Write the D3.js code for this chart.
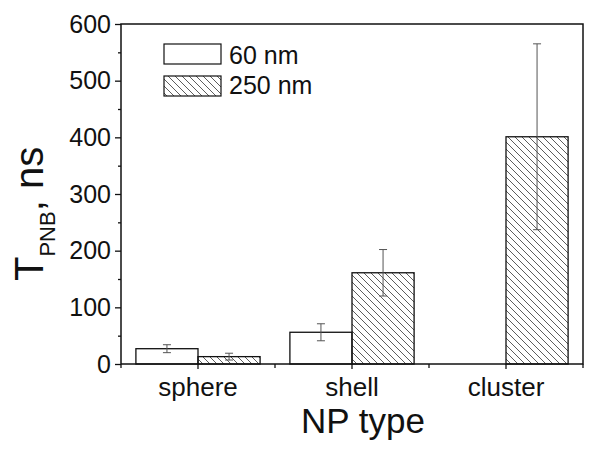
<!DOCTYPE html>
<html>
<head>
<meta charset="utf-8">
<script src="https://cdn.jsdelivr.net/npm/d3@7"></script>
<style>
  body { margin: 0; background: #fff; }
  svg { font-family: "Liberation Sans", Arial, sans-serif; }
</style>
</head>
<body>
<svg id="chart" width="601" height="449"></svg>
<script>
// data
let types = ["sphere", "shell", "cluster"];
let sizes = ["60 nm", "250 nm"];
let means60 = [27, 56, null];
let errs60 = [7, 15, null];
let means250 = [13, 161, 401];
let errs250 = [6, 41, 164];
let yTicks = [0, 100, 200, 300, 400, 500, 600];

let svg = d3.select("#chart");
let pLeft = 121, pRight = 583, pTop = 24, pBottom = 364;

let x = d3.scaleBand().domain(types).range([pLeft, pRight]).paddingInner(0).paddingOuter(0);
let inner = d3.scaleBand().domain(sizes).range([0, x.bandwidth()]).paddingInner(0).paddingOuter(0.24);
let y = d3.scaleLinear().domain([0, 600]).range([pBottom, pTop]);

// hatch pattern
let defs = svg.append("defs");
defs.append("pattern")
  .attr("id", "hatch")
  .attr("patternUnits", "userSpaceOnUse")
  .attr("width", 7).attr("height", 7)
  .append("path")
  .attr("d", "M-1,-1 L8,8 M-8,-1 L1,8 M6,-1 L15,8")
  .attr("stroke", "#333").attr("stroke-width", 0.8);

let rows = [];
types.forEach(function (t, i) {
  rows.push({ type: t, size: sizes[0], v: means60[i], e: errs60[i] });
  rows.push({ type: t, size: sizes[1], v: means250[i], e: errs250[i] });
});
rows = rows.filter(d => d.v != null);

// bars
svg.append("g").selectAll("rect").data(rows).join("rect")
  .attr("x", d => x(d.type) + inner(d.size))
  .attr("y", d => y(d.v))
  .attr("width", inner.bandwidth())
  .attr("height", d => y(0) - y(d.v))
  .attr("fill", d => d.size == sizes[0] ? "#fff" : "url(#hatch)")
  .attr("stroke", "#111").attr("stroke-width", 1.3);

// error bars
let eb = svg.append("g").attr("stroke", "#555").attr("stroke-width", 1);
rows.forEach(function (d) {
  let cx = x(d.type) + inner(d.size) + inner.bandwidth() / 2;
  eb.append("line").attr("x1", cx).attr("x2", cx).attr("y1", y(d.v + d.e)).attr("y2", y(d.v - d.e));
  eb.append("line").attr("x1", cx - 4).attr("x2", cx + 4).attr("y1", y(d.v + d.e)).attr("y2", y(d.v + d.e));
  eb.append("line").attr("x1", cx - 4).attr("x2", cx + 4).attr("y1", y(d.v - d.e)).attr("y2", y(d.v - d.e));
});

// frame
svg.append("rect")
  .attr("x", pLeft).attr("y", pTop).attr("width", pRight - pLeft).attr("height", pBottom - pTop)
  .attr("fill", "none").attr("stroke", "#111").attr("stroke-width", 1.5);

// y axis
let yAxis = svg.append("g").attr("transform", "translate(" + pLeft + ",0)")
  .call(d3.axisLeft(y).tickValues(yTicks).tickSize(6).tickPadding(4));
svg.append("g").attr("transform", "translate(" + pLeft + ",0)")
  .call(d3.axisLeft(y).tickValues(d3.range(50, 600, 100)).tickSize(3).tickFormat(""))
  .select(".domain").remove();
yAxis.select(".domain").remove();
svg.selectAll("g.tick line").attr("stroke", "#111").attr("stroke-width", 1.3);
yAxis.selectAll("text").attr("font-size", 25).attr("font-family", "Liberation Sans, Arial").attr("fill", "#111");

// x axis
let xAxis = svg.append("g").attr("transform", "translate(0," + pBottom + ")")
  .call(d3.axisBottom(x).tickSize(5).tickPadding(9));
xAxis.select(".domain").remove();
xAxis.selectAll("line").attr("stroke", "#111").attr("stroke-width", 1.3);
xAxis.selectAll("text").attr("font-size", 26).attr("font-family", "Liberation Sans, Arial").attr("fill", "#111");
let minorX = [pLeft].concat(types.map(t => x(t) + x.bandwidth()));
svg.append("g").selectAll("line").data(minorX).join("line")
  .attr("x1", d => d).attr("x2", d => d).attr("y1", pBottom).attr("y2", pBottom + 4)
  .attr("stroke", "#111").attr("stroke-width", 1.3);

// axis titles
svg.append("text").attr("x", 363).attr("y", 433).attr("text-anchor", "middle")
  .attr("font-size", 35).attr("fill", "#111").text("NP type");
let yt = svg.append("text").attr("transform", "translate(43,281) rotate(-90)")
  .attr("text-anchor", "start").attr("font-size", 40).attr("fill", "#111");
yt.append("tspan").text("T");
yt.append("tspan").attr("font-size", 22).attr("dy", 12).text("PNB");
yt.append("tspan").attr("dy", -12).text(", ns");

// legend
let lg = svg.append("g").attr("transform", "translate(164,44)");
sizes.forEach(function (s, i) {
  lg.append("rect").attr("x", 0).attr("y", i * 32).attr("width", 57).attr("height", 20)
    .attr("fill", i == 0 ? "#fff" : "url(#hatch)").attr("stroke", "#111").attr("stroke-width", 1.2);
  lg.append("text").attr("x", 65).attr("y", i * 30 + 20).attr("font-size", 25).attr("fill", "#111").text(s);
});
</script>
</body>
</html>
